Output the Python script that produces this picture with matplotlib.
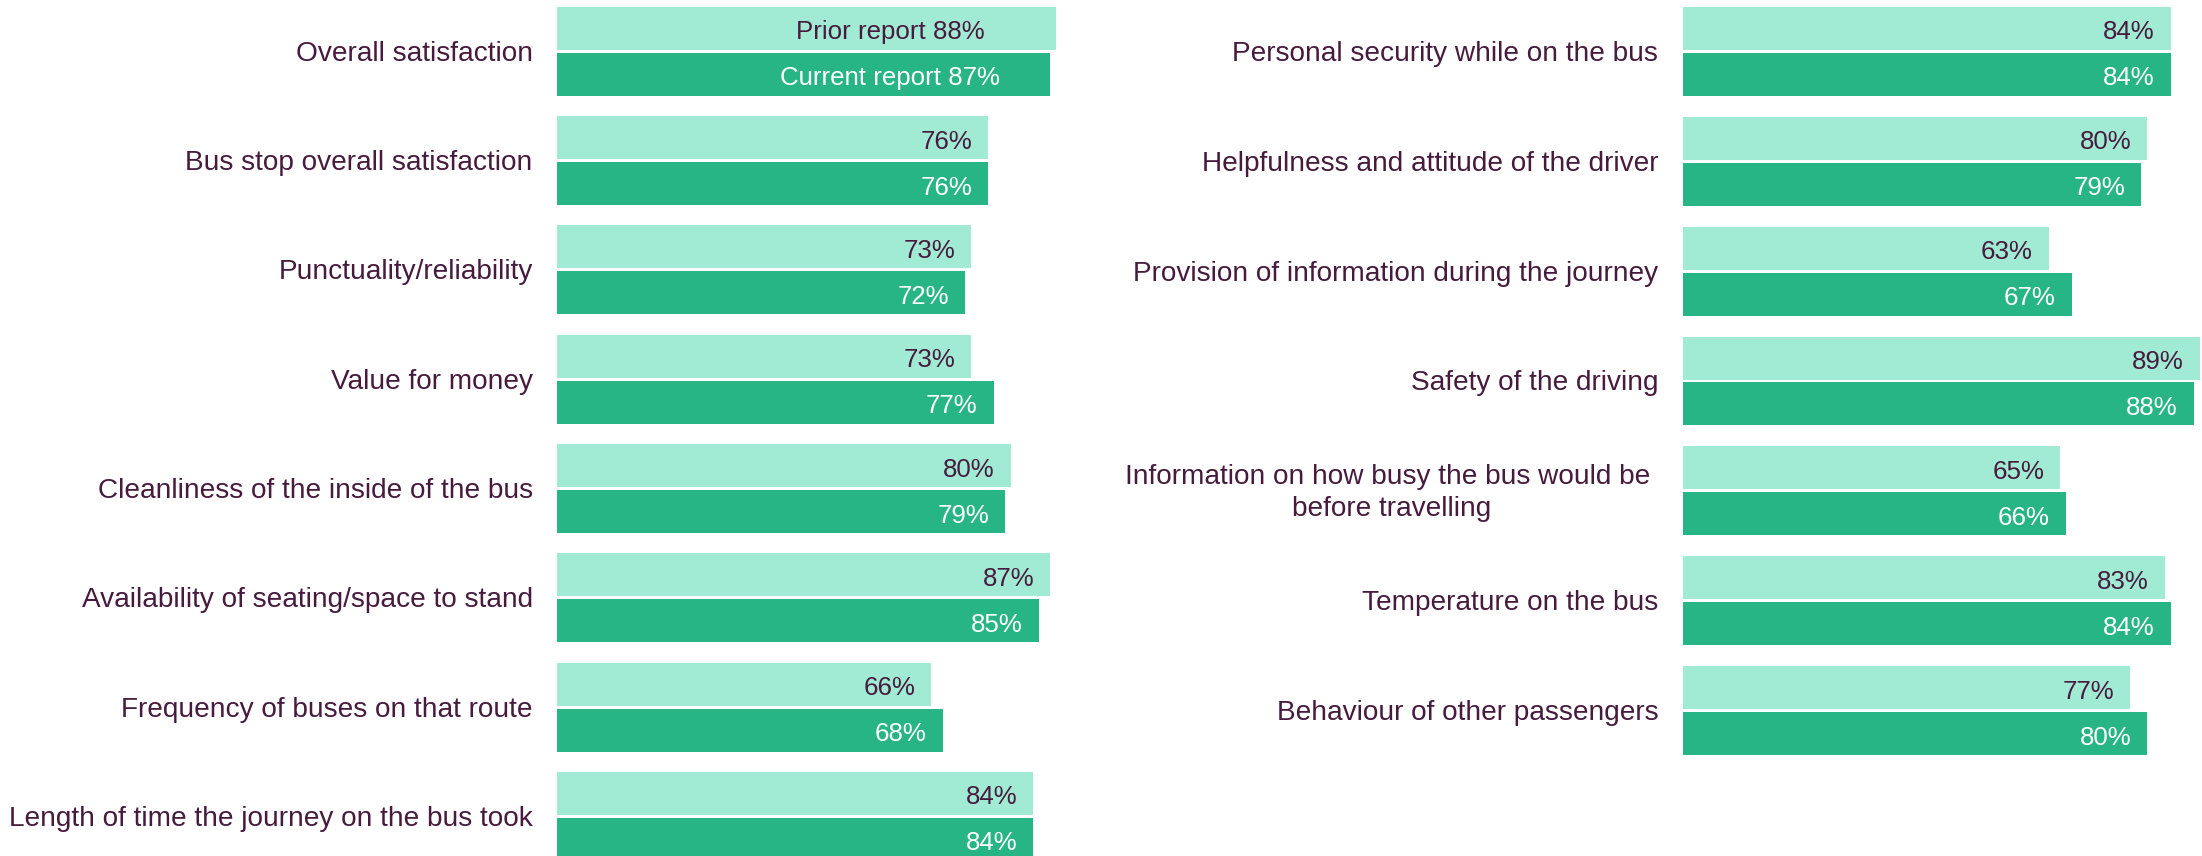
import matplotlib
matplotlib.use("Agg")
import matplotlib.pyplot as plt

plt.rcParams['font.family'] = ['Liberation Sans', 'DejaVu Sans']

left_categories = [
    "Overall satisfaction",
    "Bus stop overall satisfaction",
    "Punctuality/reliability",
    "Value for money",
    "Cleanliness of the inside of the bus",
    "Availability of seating/space to stand",
    "Frequency of buses on that route",
    "Length of time the journey on the bus took",
]
left_prior = [88, 76, 73, 73, 80, 87, 66, 84]
left_current = [87, 76, 72, 77, 79, 85, 68, 84]

right_categories = [
    "Personal security while on the bus",
    "Helpfulness and attitude of the driver",
    "Provision of information during the journey",
    "Safety of the driving",
    "Information on how busy the bus would be \nbefore travelling",
    "Temperature on the bus",
    "Behaviour of other passengers",
]
right_prior = [84, 80, 63, 89, 65, 83, 77]
right_current = [84, 79, 67, 88, 66, 84, 80]

LIGHT = "#A1EBD4"
DARK = "#27B586"
TEXT = "#461B3D"

W, H = 2202, 856
fig = plt.figure(figsize=(W / 100, H / 100), dpi=100)

TOP_PX = 6.8        # top edge of first bar (px)
BAR_PX = 43.0       # bar thickness (px)
OFF_PX = 46.0       # prior -> current centre distance (px)
DY_VAL = -2.9       # small downward text nudge (points)
DY_CAT = -1.8
CAT_FS = 20.15
VAL_FS = 18.6


def panel(left_px, px_per_pct, xmax, pitch, cats, prior, current,
          first_special):
    ax = fig.add_axes([left_px / W, 0, xmax * px_per_pct / W, 1])
    ax.set_xlim(0, xmax)
    c0 = TOP_PX + BAR_PX / 2
    ax.set_ylim((H - c0) / pitch, -c0 / pitch)
    ax.axis("off")
    bar_h = BAR_PX / pitch
    off = OFF_PX / pitch
    ys = list(range(len(cats)))
    yc = [y + off for y in ys]
    ax.barh(ys, prior, height=bar_h, color=LIGHT, edgecolor="none")
    ax.barh(yc, current, height=bar_h, color=DARK, edgecolor="none")
    for i, cat in enumerate(cats):
        ax.annotate(cat, xy=(0, i + off / 2), xytext=(-17.5, DY_CAT),
                    textcoords="offset points", ha="right", va="center",
                    multialignment="center", linespacing=1.3,
                    fontsize=CAT_FS, color=TEXT, annotation_clip=False)
    for i, (p, c) in enumerate(zip(prior, current)):
        if first_special and i == 0:
            ax.annotate(f"Prior report {p}%", xy=(58.7, i), xytext=(0, DY_VAL),
                        textcoords="offset points", ha="center", va="center",
                        fontsize=VAL_FS, color=TEXT)
            ax.annotate(f"Current report {c}%", xy=(58.7, i + off),
                        xytext=(0, DY_VAL), textcoords="offset points",
                        ha="center", va="center", fontsize=VAL_FS,
                        color="white")
            continue
        ax.annotate(f"{p}%", xy=(p, i), xytext=(-11.5, DY_VAL),
                    textcoords="offset points", ha="right", va="center",
                    fontsize=VAL_FS, color=TEXT)
        ax.annotate(f"{c}%", xy=(c, i + off), xytext=(-11.5, DY_VAL),
                    textcoords="offset points", ha="right", va="center",
                    fontsize=VAL_FS, color="white")
    return ax


panel(557, 5.67, 100, 109.3, left_categories, left_prior, left_current, True)
panel(1682.5, 5.81, (W - 1682.5) / 5.81, 109.9, right_categories,
      right_prior, right_current, False)

fig.savefig("out.png", dpi=100)
